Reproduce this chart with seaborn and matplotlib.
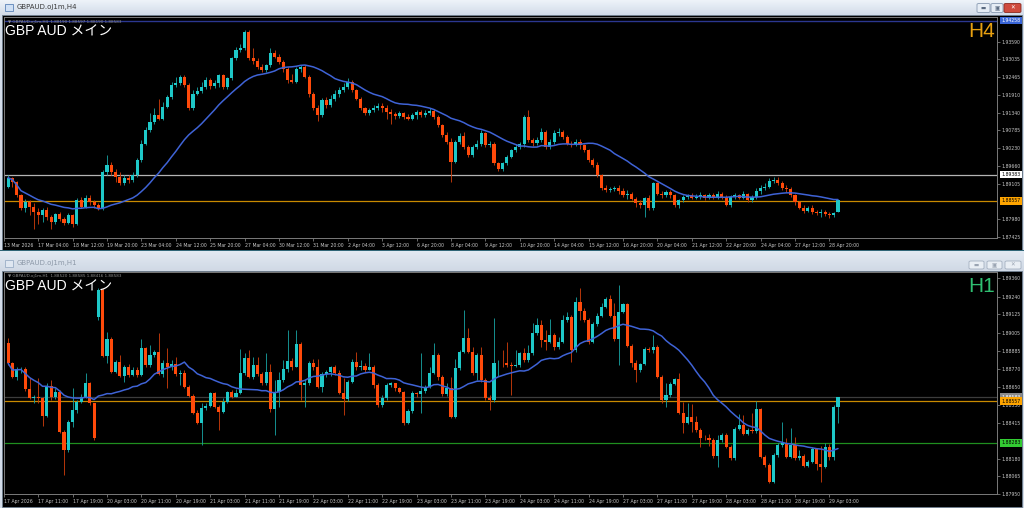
import numpy as np
import pandas as pd
import matplotlib
matplotlib.use("Agg")
import matplotlib.pyplot as plt
import matplotlib.transforms as mtrans
from matplotlib.patches import Rectangle, FancyBboxPatch
import seaborn as sns

sns.set_theme(style="dark")
plt.rcParams['font.family'] = ['DejaVu Sans', 'Noto Sans CJK JP']

# ---------------- H4 data (GBPAUD) ----------------
h4_open = [
 1.8900,1.8929,1.8916,1.8874,1.8832,1.8853,1.8837,1.8821,1.8811,1.8826,
 1.8805,1.8790,1.8813,1.8798,1.8787,1.8811,1.8784,1.8858,1.8837,1.8865,
 1.8853,1.8842,1.8832,1.8948,1.8969,1.8948,1.8932,1.8911,1.8927,1.8921,
 1.8937,1.8984,1.9037,1.9079,1.9106,1.9127,1.9116,1.9153,1.9185,1.9222,
 1.9227,1.9248,1.9222,1.9148,1.9195,1.9203,1.9216,1.9237,1.9220,1.9227,
 1.9253,1.9216,1.9243,1.9306,1.9332,1.9338,1.9390,1.9306,1.9298,1.9280,
 1.9269,1.9285,1.9322,1.9311,1.9295,1.9274,1.9237,1.9232,1.9274,1.9280,
 1.9248,1.9195,1.9148,1.9127,1.9174,1.9158,1.9179,1.9195,1.9205,1.9216,
 1.9232,1.9205,1.9179,1.9148,1.9132,1.9143,1.9150,1.9156,1.9148,1.9137,
 1.9129,1.9125,1.9132,1.9122,1.9116,1.9127,1.9137,1.9127,1.9132,1.9140,
 1.9122,1.9095,1.9064,1.9043,1.8979,1.9043,1.9062,1.9027,1.9000,1.9027,
 1.9034,1.9069,1.9032,1.9037,1.8974,1.8956,1.8974,1.8995,1.9016,1.9027,
 1.9034,1.9122,1.9048,1.9040,1.9048,1.9074,1.9027,1.9043,1.9069,1.9074,
 1.9058,1.9037,1.9034,1.9043,1.9032,1.9016,1.8984,1.8969,1.8937,1.8895,
 1.8890,1.8893,1.8897,1.8887,1.8874,1.8879,1.8863,1.8848,1.8842,1.8865,
 1.8832,1.8911,1.8879,1.8874,1.8884,1.8874,1.8842,1.8858,1.8869,1.8874,
 1.8865,1.8869,1.8874,1.8865,1.8874,1.8869,1.8876,1.8869,1.8844,1.8869,
 1.8874,1.8865,1.8876,1.8858,1.8869,1.8887,1.8895,1.8900,1.8918,1.8921,
 1.8911,1.8895,1.8893,1.8874,1.8851,1.8834,1.8823,1.8834,1.8819,1.8816,
 1.8821,1.8813,1.8811,1.8819]
h4_high = [
 1.8937,1.8932,1.8919,1.8879,1.8863,1.8858,1.8848,1.8832,1.8832,1.8837,
 1.8811,1.8816,1.8821,1.8805,1.8816,1.8813,1.8865,1.8869,1.8874,1.8874,
 1.8858,1.8848,1.8953,1.9000,1.8979,1.8958,1.8948,1.8937,1.8937,1.8948,
 1.8990,1.9048,1.9090,1.9132,1.9148,1.9179,1.9169,1.9190,1.9232,1.9248,
 1.9253,1.9255,1.9227,1.9205,1.9216,1.9232,1.9248,1.9243,1.9237,1.9258,
 1.9258,1.9248,1.9311,1.9343,1.9353,1.9396,1.9396,1.9338,1.9306,1.9290,
 1.9290,1.9338,1.9332,1.9319,1.9301,1.9280,1.9258,1.9280,1.9285,1.9285,
 1.9253,1.9201,1.9158,1.9182,1.9185,1.9190,1.9205,1.9216,1.9227,1.9243,
 1.9237,1.9211,1.9185,1.9153,1.9150,1.9158,1.9164,1.9164,1.9158,1.9146,
 1.9137,1.9140,1.9137,1.9129,1.9132,1.9143,1.9143,1.9143,1.9148,1.9146,
 1.9127,1.9100,1.9074,1.9053,1.9048,1.9069,1.9074,1.9032,1.9032,1.9048,
 1.9079,1.9074,1.9045,1.9043,1.8979,1.8979,1.9000,1.9021,1.9037,1.9043,
 1.9127,1.9143,1.9055,1.9058,1.9085,1.9079,1.9051,1.9079,1.9085,1.9079,
 1.9064,1.9045,1.9051,1.9051,1.9037,1.9021,1.8990,1.8979,1.8942,1.8905,
 1.8900,1.8903,1.8905,1.8895,1.8890,1.8884,1.8869,1.8858,1.8869,1.8874,
 1.8916,1.8916,1.8887,1.8890,1.8890,1.8879,1.8863,1.8874,1.8879,1.8882,
 1.8876,1.8884,1.8879,1.8882,1.8881,1.8887,1.8884,1.8874,1.8874,1.8882,
 1.8879,1.8887,1.8882,1.8874,1.8895,1.8905,1.8911,1.8927,1.8932,1.8932,
 1.8918,1.8905,1.8900,1.8879,1.8855,1.8842,1.8840,1.8842,1.8826,1.8830,
 1.8826,1.8821,1.8821,1.8860]
h4_low = [
 1.8895,1.8900,1.8868,1.8826,1.8821,1.8811,1.8768,1.8784,1.8790,1.8795,
 1.8768,1.8784,1.8792,1.8779,1.8784,1.8774,1.8779,1.8832,1.8832,1.8842,
 1.8832,1.8826,1.8826,1.8939,1.8937,1.8916,1.8905,1.8905,1.8911,1.8916,
 1.8932,1.8979,1.9032,1.9074,1.9100,1.9111,1.9111,1.9148,1.9179,1.9216,
 1.9222,1.9216,1.9142,1.9142,1.9190,1.9198,1.9211,1.9211,1.9213,1.9216,
 1.9211,1.9211,1.9237,1.9301,1.9325,1.9332,1.9301,1.9290,1.9274,1.9264,
 1.9264,1.9280,1.9306,1.9290,1.9264,1.9227,1.9227,1.9227,1.9264,1.9243,
 1.9185,1.9142,1.9108,1.9122,1.9148,1.9153,1.9171,1.9185,1.9201,1.9211,
 1.9201,1.9174,1.9142,1.9127,1.9127,1.9137,1.9143,1.9137,1.9116,1.9100,
 1.9116,1.9119,1.9114,1.9111,1.9111,1.9116,1.9122,1.9122,1.9127,1.9116,
 1.9090,1.9058,1.9037,1.8916,1.8974,1.9037,1.9021,1.8995,1.8995,1.9021,
 1.9030,1.9027,1.9027,1.8969,1.8950,1.8950,1.8969,1.8990,1.9011,1.9021,
 1.9027,1.9043,1.9030,1.9032,1.9043,1.9021,1.9021,1.9037,1.9062,1.9051,
 1.9032,1.9027,1.9030,1.9021,1.9011,1.8979,1.8963,1.8932,1.8890,1.8884,
 1.8884,1.8887,1.8879,1.8869,1.8863,1.8858,1.8837,1.8832,1.8805,1.8826,
 1.8826,1.8874,1.8865,1.8869,1.8865,1.8837,1.8832,1.8853,1.8863,1.8861,
 1.8861,1.8863,1.8858,1.8861,1.8863,1.8863,1.8861,1.8840,1.8837,1.8863,
 1.8861,1.8861,1.8853,1.8853,1.8863,1.8879,1.8890,1.8895,1.8911,1.8905,
 1.8890,1.8884,1.8869,1.8844,1.8830,1.8816,1.8819,1.8813,1.8811,1.8805,
 1.8808,1.8800,1.8805,1.8819]
h4_close = [
 1.8929,1.8916,1.8874,1.8832,1.8853,1.8837,1.8821,1.8811,1.8826,1.8805,
 1.8790,1.8813,1.8798,1.8787,1.8811,1.8784,1.8858,1.8837,1.8865,1.8853,
 1.8842,1.8832,1.8948,1.8969,1.8948,1.8932,1.8911,1.8927,1.8921,1.8937,
 1.8984,1.9037,1.9079,1.9106,1.9127,1.9116,1.9153,1.9185,1.9222,1.9227,
 1.9248,1.9222,1.9148,1.9195,1.9203,1.9216,1.9237,1.9220,1.9227,1.9253,
 1.9216,1.9243,1.9306,1.9332,1.9338,1.9390,1.9306,1.9298,1.9280,1.9269,
 1.9285,1.9322,1.9311,1.9295,1.9274,1.9237,1.9232,1.9274,1.9280,1.9248,
 1.9195,1.9148,1.9127,1.9174,1.9158,1.9179,1.9195,1.9205,1.9216,1.9232,
 1.9205,1.9179,1.9148,1.9132,1.9143,1.9150,1.9156,1.9148,1.9137,1.9129,
 1.9125,1.9132,1.9122,1.9116,1.9127,1.9137,1.9127,1.9132,1.9140,1.9122,
 1.9095,1.9064,1.9043,1.8979,1.9043,1.9062,1.9027,1.9000,1.9027,1.9034,
 1.9069,1.9032,1.9037,1.8974,1.8956,1.8974,1.8995,1.9016,1.9027,1.9034,
 1.9122,1.9048,1.9040,1.9048,1.9074,1.9027,1.9043,1.9069,1.9074,1.9058,
 1.9037,1.9034,1.9043,1.9032,1.9016,1.8984,1.8969,1.8937,1.8895,1.8890,
 1.8893,1.8897,1.8887,1.8874,1.8879,1.8863,1.8848,1.8842,1.8865,1.8832,
 1.8911,1.8879,1.8874,1.8884,1.8874,1.8842,1.8858,1.8869,1.8874,1.8865,
 1.8869,1.8874,1.8865,1.8874,1.8869,1.8876,1.8869,1.8844,1.8869,1.8874,
 1.8865,1.8876,1.8858,1.8869,1.8887,1.8895,1.8900,1.8918,1.8921,1.8911,
 1.8895,1.8893,1.8874,1.8851,1.8834,1.8823,1.8834,1.8819,1.8816,1.8821,
 1.8813,1.8811,1.8816,1.8858]

# ---------------- H1 data (GBPAUD) ----------------
h1_open = [
 1.88934,1.88804,1.88716,1.88764,1.88769,1.88634,1.88577,1.88586,1.88575,1.88459,
 1.88655,1.88581,1.88618,1.88357,1.88237,1.88418,1.88498,1.88549,1.88581,1.88677,
 1.88542,1.89109,1.89283,1.88852,1.88961,1.88749,1.88814,1.88721,1.88782,1.88727,
 1.88760,1.88727,1.88902,1.88793,1.88858,1.88880,1.88734,1.88808,1.88777,1.88799,
 1.88734,1.88743,1.88651,1.88590,1.88481,1.88416,1.88509,1.88525,1.88607,1.88520,
 1.88487,1.88553,1.88616,1.88586,1.88612,1.88738,1.88836,1.88712,1.88793,1.88734,
 1.88673,1.88749,1.88503,1.88618,1.88695,1.88764,1.88821,1.88782,1.88930,1.88662,
 1.88677,1.88804,1.88777,1.88651,1.88734,1.88749,1.88777,1.88743,1.88612,1.88568,
 1.88684,1.88814,1.88782,1.88786,1.88760,1.88777,1.88662,1.88531,1.88575,1.88662,
 1.88673,1.88640,1.88618,1.88411,1.88494,1.88607,1.88603,1.88625,1.88647,1.88738,
 1.88858,1.88716,1.88603,1.88640,1.88455,1.88771,1.88880,1.88967,1.88880,1.88738,
 1.88858,1.88695,1.88575,1.88564,1.88804,1.88808,1.88804,1.88793,1.88786,1.88793,
 1.88869,1.88825,1.88869,1.89000,1.89054,1.88956,1.88945,1.88989,1.88908,1.88945,
 1.89087,1.89109,1.88891,1.89207,1.89148,1.89087,1.88945,1.89061,1.89113,1.89174,
 1.89222,1.89113,1.88961,1.89141,1.89192,1.88917,1.88808,1.88760,1.88797,1.88895,
 1.88891,1.88913,1.88716,1.88564,1.88596,1.88668,1.88699,1.88481,1.88416,1.88455,
 1.88422,1.88368,1.88317,1.88313,1.88302,1.88198,1.88302,1.88335,1.88259,1.88182,
 1.88372,1.88400,1.88341,1.88368,1.88363,1.88503,1.88193,1.88139,1.88030,1.88204,
 1.88269,1.88280,1.88193,1.88269,1.88182,1.88198,1.88132,1.88160,1.88241,1.88145,
 1.88128,1.88254,1.88189,1.88520]
h1_high = [
 1.88967,1.88814,1.88782,1.88777,1.88777,1.88705,1.88596,1.88705,1.88586,1.88673,
 1.88695,1.88640,1.88629,1.88368,1.88433,1.88640,1.88564,1.88603,1.88738,1.88684,
 1.88546,1.89294,1.89294,1.89011,1.88978,1.88825,1.88858,1.88793,1.88799,1.88782,
 1.88782,1.88961,1.88913,1.88923,1.88891,1.89004,1.88825,1.88902,1.88825,1.88847,
 1.88760,1.88760,1.88662,1.88603,1.88498,1.88546,1.88542,1.88618,1.88618,1.88531,
 1.88575,1.88625,1.88629,1.88634,1.88900,1.88869,1.88891,1.88843,1.88843,1.88749,
 1.88869,1.88799,1.88695,1.88749,1.88825,1.89022,1.88836,1.89022,1.88945,1.88699,
 1.88821,1.88830,1.88830,1.88749,1.88760,1.88786,1.88793,1.88760,1.88705,1.88695,
 1.88830,1.88880,1.88825,1.88804,1.88869,1.88793,1.88673,1.88596,1.88673,1.88684,
 1.88677,1.88651,1.88625,1.88503,1.88625,1.88618,1.88869,1.88662,1.88782,1.88934,
 1.88869,1.88727,1.88673,1.88716,1.88830,1.88891,1.89152,1.89032,1.88913,1.88869,
 1.88913,1.88705,1.88596,1.89098,1.88825,1.88891,1.88945,1.88814,1.88891,1.88880,
 1.88902,1.88923,1.89065,1.89098,1.89087,1.89022,1.89091,1.89004,1.88978,1.89120,
 1.89141,1.89120,1.89240,1.89294,1.89163,1.89098,1.89076,1.89131,1.89196,1.89240,
 1.89251,1.89196,1.89316,1.89200,1.89200,1.88930,1.88825,1.88808,1.88908,1.88908,
 1.88989,1.88923,1.88727,1.88673,1.88684,1.88705,1.88738,1.88553,1.88542,1.88538,
 1.88459,1.88378,1.88335,1.88341,1.88313,1.88335,1.88346,1.88346,1.88269,1.88389,
 1.88472,1.88466,1.88378,1.88481,1.88559,1.88509,1.88204,1.88150,1.88215,1.88280,
 1.88422,1.88313,1.88378,1.88324,1.88237,1.88211,1.88171,1.88254,1.88248,1.88263,
 1.88280,1.88276,1.88531,1.88585]
h1_low = [
 1.88793,1.88705,1.88695,1.88738,1.88625,1.88568,1.88542,1.88546,1.88394,1.88455,
 1.88564,1.88568,1.88346,1.88073,1.88226,1.88389,1.88477,1.88542,1.88575,1.88531,
 1.88302,1.89087,1.88843,1.88804,1.88738,1.88738,1.88712,1.88684,1.88716,1.88721,
 1.88716,1.88721,1.88782,1.88782,1.88843,1.88727,1.88716,1.88640,1.88760,1.88721,
 1.88662,1.88640,1.88581,1.88472,1.88407,1.88269,1.88498,1.88516,1.88509,1.88368,
 1.88477,1.88542,1.88575,1.88581,1.88603,1.88727,1.88705,1.88699,1.88721,1.88662,
 1.88662,1.88487,1.88335,1.88520,1.88684,1.88749,1.88760,1.88782,1.88564,1.88516,
 1.88662,1.88760,1.88640,1.88618,1.88716,1.88721,1.88727,1.88603,1.88466,1.88559,
 1.88673,1.88760,1.88760,1.88749,1.88760,1.88640,1.88520,1.88520,1.88564,1.88651,
 1.88625,1.88607,1.88400,1.88407,1.88481,1.88586,1.88477,1.88612,1.88640,1.88734,
 1.88695,1.88590,1.88590,1.88444,1.88444,1.88760,1.88869,1.88869,1.88727,1.88695,
 1.88684,1.88564,1.88498,1.88553,1.88721,1.88782,1.88782,1.88596,1.88777,1.88782,
 1.88814,1.88814,1.88858,1.88989,1.88913,1.88891,1.88934,1.88891,1.88895,1.88934,
 1.89076,1.88814,1.88880,1.89087,1.89076,1.88930,1.88934,1.89048,1.89104,1.89163,
 1.89104,1.88952,1.88793,1.89131,1.88908,1.88782,1.88684,1.88749,1.88793,1.88880,
 1.88873,1.88705,1.88542,1.88520,1.88586,1.88662,1.88472,1.88346,1.88407,1.88357,
 1.88357,1.88259,1.88302,1.88263,1.88182,1.88128,1.88291,1.88248,1.88171,1.88171,
 1.88368,1.88335,1.88335,1.88350,1.88346,1.88182,1.88128,1.88019,1.88019,1.88193,
 1.88259,1.88182,1.88182,1.88171,1.88171,1.88123,1.88128,1.88150,1.88106,1.88030,
 1.88117,1.88171,1.88171,1.88416]
h1_close = [
 1.88804,1.88716,1.88764,1.88769,1.88634,1.88577,1.88586,1.88575,1.88459,1.88655,
 1.88581,1.88618,1.88357,1.88237,1.88418,1.88498,1.88549,1.88581,1.88677,1.88542,
 1.88313,1.89283,1.88852,1.88961,1.88749,1.88814,1.88721,1.88782,1.88727,1.88760,
 1.88727,1.88902,1.88793,1.88858,1.88880,1.88734,1.88808,1.88777,1.88799,1.88734,
 1.88743,1.88651,1.88590,1.88481,1.88416,1.88509,1.88525,1.88607,1.88520,1.88487,
 1.88553,1.88616,1.88586,1.88612,1.88738,1.88836,1.88712,1.88793,1.88734,1.88673,
 1.88749,1.88503,1.88618,1.88695,1.88764,1.88821,1.88782,1.88930,1.88662,1.88677,
 1.88804,1.88777,1.88651,1.88734,1.88749,1.88777,1.88743,1.88612,1.88568,1.88684,
 1.88814,1.88782,1.88786,1.88760,1.88777,1.88662,1.88531,1.88575,1.88662,1.88673,
 1.88640,1.88618,1.88411,1.88494,1.88607,1.88603,1.88625,1.88647,1.88738,1.88858,
 1.88716,1.88603,1.88640,1.88455,1.88771,1.88880,1.88967,1.88880,1.88738,1.88858,
 1.88695,1.88575,1.88564,1.88804,1.88808,1.88804,1.88793,1.88786,1.88793,1.88869,
 1.88825,1.88869,1.89000,1.89054,1.88956,1.88945,1.88989,1.88908,1.88945,1.89087,
 1.89109,1.88891,1.89207,1.89148,1.89087,1.88945,1.89061,1.89113,1.89174,1.89222,
 1.89113,1.88961,1.89141,1.89192,1.88917,1.88808,1.88760,1.88797,1.88895,1.88891,
 1.88913,1.88716,1.88564,1.88596,1.88668,1.88699,1.88481,1.88416,1.88455,1.88422,
 1.88368,1.88317,1.88313,1.88302,1.88198,1.88302,1.88335,1.88259,1.88182,1.88372,
 1.88400,1.88341,1.88368,1.88363,1.88503,1.88193,1.88139,1.88030,1.88204,1.88269,
 1.88280,1.88193,1.88269,1.88182,1.88198,1.88132,1.88160,1.88241,1.88145,1.88128,
 1.88254,1.88189,1.88520,1.88583]

# ---------------- axis text ----------------
h4_dates = ["13 Mar 2026", "17 Mar 04:00", "18 Mar 12:00", "19 Mar 20:00", "23 Mar 04:00",
            "24 Mar 12:00", "25 Mar 20:00", "27 Mar 04:00", "30 Mar 12:00", "31 Mar 20:00",
            "2 Apr 04:00", "3 Apr 12:00", "6 Apr 20:00", "8 Apr 04:00", "9 Apr 12:00",
            "10 Apr 20:00", "14 Apr 04:00", "15 Apr 12:00", "16 Apr 20:00", "20 Apr 04:00",
            "21 Apr 12:00", "22 Apr 20:00", "24 Apr 04:00", "27 Apr 12:00", "28 Apr 20:00"]
h1_dates = ["17 Apr 2026", "17 Apr 11:00", "17 Apr 19:00", "20 Apr 03:00", "20 Apr 11:00",
            "20 Apr 19:00", "21 Apr 03:00", "21 Apr 11:00", "21 Apr 19:00", "22 Apr 03:00",
            "22 Apr 11:00", "22 Apr 19:00", "23 Apr 03:00", "23 Apr 11:00", "23 Apr 19:00",
            "24 Apr 03:00", "24 Apr 11:00", "24 Apr 19:00", "27 Apr 03:00", "27 Apr 11:00",
            "27 Apr 19:00", "28 Apr 03:00", "28 Apr 11:00", "28 Apr 19:00", "29 Apr 03:00"]
h4_price_ticks = [1.93590, 1.93035, 1.92465, 1.91910, 1.91340, 1.90785, 1.90230,
                  1.89660, 1.89105, 1.87980, 1.87425]
h1_price_ticks = [1.89360, 1.89240, 1.89125, 1.89005, 1.88885, 1.88770, 1.88650,
                  1.88530, 1.88415, 1.88180, 1.88065, 1.87950]
h4_levels = {"top": 1.94258, "white": 1.89383, "orange": 1.88557}
h1_levels = {"bid": 1.88583, "orange": 1.88557, "green": 1.88283}
h4_header = "▼ GBPAUD.oj1m,H4  1.88190 1.88597 1.88190 1.88583"
h1_header = "▼ GBPAUD.oj1m,H1  1.88520 1.88585 1.88416 1.88583"
ma_period = 21

UP = "#1ec8c8"
DN = "#ff4a0a"
UPW = "#179a9a"
DNW = "#c43a0a"
MA_C = "#3f63d6"
TXT = "#c8c8c8"
FRAME = "#7a7a7a"
SMALL = 3.3

W, H = 1024, 508
fig = plt.figure(figsize=(W / 100, H / 100), dpi=100)
fig.patch.set_facecolor("#d3dce8")


def fx(x):
    return x / W


def fy(y):
    return 1 - y / H


def frect(x0, y0, x1, y1, **kw):
    r = Rectangle((fx(x0), fy(y1)), fx(x1) - fx(x0), fy(y0) - fy(y1),
                  transform=fig.transFigure, **kw)
    fig.add_artist(r)
    return r


def title_bar(y0, y1, c_top, c_bot):
    a = fig.add_axes([0, fy(y1), 1, (y1 - y0) / H], zorder=-3)
    grad = np.linspace(0, 1, 32).reshape(-1, 1)
    cmap = matplotlib.colors.LinearSegmentedColormap.from_list("tb", [c_top, c_bot])
    a.imshow(grad, aspect="auto", cmap=cmap, extent=[0, 1, 0, 1], origin="upper")
    a.set_axis_off()


# window chrome
title_bar(0, 15, "#eef3f9", "#d2dce9")
title_bar(251, 271, "#e3eaf3", "#d0d9e5")
frect(2, 15.5, 1022, 250, facecolor="black", edgecolor="#6f7f90", lw=0.6, zorder=-2)
frect(0, 249.6, 1024, 251.2, facecolor="#2f6577", edgecolor="none", zorder=-2)
frect(2, 271, 1022, 506.5, facecolor="black", edgecolor="#6f7f90", lw=0.6, zorder=-2)

# title texts + icons
frect(5, 4, 13, 11, facecolor="#cfe0f5", edgecolor="#5b83b8", lw=0.6, zorder=2)
fig.text(fx(17), fy(7.5), "GBPAUD.oj1m,H4", fontsize=5, color="#3a3a3a", va="center")
frect(5, 259.5, 13, 266.5, facecolor="#dfe7f1", edgecolor="#9aaec6", lw=0.6, zorder=2)
fig.text(fx(17), fy(263), "GBPAUD.oj1m,H1", fontsize=5, color="#8d99a8", va="center")


def button(x0, y0, x1, y1, fc, ec, glyph, gc):
    p = FancyBboxPatch((fx(x0), fy(y1)), fx(x1) - fx(x0), fy(y0) - fy(y1),
                       boxstyle="round,pad=0,rounding_size=0.002",
                       transform=fig.transFigure, facecolor=fc, edgecolor=ec, lw=0.6, zorder=3)
    fig.add_artist(p)
    fig.text(fx((x0 + x1) / 2), fy((y0 + y1) / 2 + 0.3), glyph, fontsize=4.0,
             color=gc, ha="center", va="center", zorder=4)


button(977, 3.5, 990, 12.5, "#e6edf5", "#8799b0", "▬", "#5a6a80")
button(991, 3.5, 1003, 12.5, "#e6edf5", "#8799b0", "▣", "#5a6a80")
button(1004, 3.5, 1021, 12.5, "#cf4b3e", "#8a2a20", "✕", "white")
button(969, 261, 984, 269, "#e9eef4", "#a4b0c0", "▬", "#9aa4b2")
button(987, 261, 1002, 269, "#e9eef4", "#a4b0c0", "▣", "#9aa4b2")
button(1005, 261, 1021, 269, "#e9eef4", "#a4b0c0", "✕", "#9aa4b2")

# ---------------- chart panels ----------------
X_LEFT, X_RIGHT = 3.5, 997.0
LAST_X, STEP = 838.0, 4.3


def make_ax(y_top, y_bot):
    ax = fig.add_axes([fx(X_LEFT), fy(y_bot), (X_RIGHT - X_LEFT) / W, (y_bot - y_top) / H])
    ax.set_facecolor("black")
    for s in ax.spines.values():
        s.set_color(FRAME)
        s.set_linewidth(0.7)
    return ax


def draw_panel(ax, o, h, l, c, ylim, dates, pticks):
    o, h, l, c = map(np.asarray, (o, h, l, c))
    n = len(c)
    x = np.arange(n)
    up = c >= o
    body_c = np.where(up, UP, DN)
    wick_c = np.where(up, UPW, DNW)
    eps = (ylim[1] - ylim[0]) / 350
    ax.vlines(x, l, h, colors=wick_c, linewidth=0.65, zorder=2)
    ax.bar(x, np.maximum(np.abs(c - o), eps), bottom=np.minimum(o, c), width=0.7,
           color=body_c, linewidth=0, zorder=3)
    ma = pd.Series(c).rolling(ma_period, min_periods=1).mean()
    sns.lineplot(x=x, y=ma.values, ax=ax, color=MA_C, linewidth=1.1, zorder=5)
    ax.set_xlabel("")
    ax.set_ylabel("")
    left = (n - 1) - (LAST_X - X_LEFT) / STEP
    right = (n - 1) + (X_RIGHT - LAST_X) / STEP
    ax.set_xlim(left, right)
    ax.set_ylim(*ylim)
    # date axis: one label every 8 bars
    ticks = [(n - 3) - 8 * (len(dates) - 1 - k) for k in range(len(dates))]
    ax.set_xticks(ticks)
    ax.set_xticklabels(dates)
    for t in ax.get_xticklabels():
        t.set_ha("left")
    ax.tick_params(axis="x", bottom=True, direction="out", length=2.5, width=0.6,
                   color=FRAME, labelsize=SMALL, labelcolor=TXT, pad=1.0)
    ax.yaxis.tick_right()
    ax.set_yticks(pticks)
    ax.set_yticklabels([f"{v:.5f}" for v in pticks])
    ax.tick_params(axis="y", right=True, left=False, direction="out", length=2.0, width=0.6,
                   color=FRAME, labelsize=SMALL, labelcolor=TXT, pad=1.5)
    ax.grid(False)


def price_box(ax, y, fc, tc):
    tr = mtrans.blended_transform_factory(ax.transAxes, ax.transData)
    ax.text(1.0045, y, f"{y:.5f}", transform=tr, fontsize=SMALL, color=tc, ha="left",
            va="center", clip_on=False, zorder=10,
            bbox=dict(boxstyle="square,pad=0.25", facecolor=fc, edgecolor="none"))


# top H4 panel: y 17..238 px
ax1 = make_ax(17, 238)
ylim1 = (1.93590 - (238 - 41.7) * 0.0003162, 1.93590 + (41.7 - 17) * 0.0003162)
ax1.axhline(h4_levels["top"], color="#2b3790", lw=1.0, zorder=1)
ax1.axhline(h4_levels["white"], color="#b4b4b4", lw=0.9, zorder=1)
ax1.axhline(h4_levels["orange"], color="#c98a00", lw=0.9, zorder=1)
draw_panel(ax1, h4_open, h4_high, h4_low, h4_close, ylim1, h4_dates, h4_price_ticks)
price_box(ax1, h4_levels["top"], "#3a66d8", "white")
price_box(ax1, h4_levels["white"], "white", "black")
price_box(ax1, h4_levels["orange"], "#ffa500", "black")

# bottom H1 panel: y 272..494 px
ax2 = make_ax(272, 494)
ylim2 = (1.89360 - (494 - 278.3) * 0.0000654, 1.89360 + (278.3 - 272) * 0.0000654)
ax2.axhline(h1_levels["bid"], color="#3c3c3c", lw=0.9, zorder=1)
ax2.axhline(h1_levels["orange"], color="#c98a00", lw=0.9, zorder=1)
ax2.axhline(h1_levels["green"], color="#1f8f1f", lw=0.9, zorder=1)
draw_panel(ax2, h1_open, h1_high, h1_low, h1_close, ylim2, h1_dates, h1_price_ticks)
price_box(ax2, h1_levels["bid"], "#8a8a8a", "white")
price_box(ax2, h1_levels["orange"], "#ffa500", "black")
price_box(ax2, h1_levels["green"], "#33cc33", "black")

# chart overlay texts
cjk = ["Liberation Sans", "Noto Sans CJK JP", "DejaVu Sans"]
for ytxt, yhead, head in ((35.5, 21.5, h4_header), (290.5, 276.5, h1_header)):
    fig.text(fx(8), fy(yhead), head, fontsize=3.0, color="#8c8c8c", va="center", zorder=6)
    fig.text(fx(5), fy(ytxt), "GBP AUD メイン", fontsize=10, color="white",
             va="baseline", family=cjk, zorder=6)
fig.text(fx(995), fy(37), "H4", fontsize=15, color="#e8a010", ha="right", va="baseline",
         family=["Liberation Sans", "DejaVu Sans"], zorder=6)
fig.text(fx(995), fy(292), "H1", fontsize=15, color="#2fbf71", ha="right", va="baseline",
         family=["Liberation Sans", "DejaVu Sans"], zorder=6)

fig.savefig("out.png", dpi=100, facecolor=fig.get_facecolor())
